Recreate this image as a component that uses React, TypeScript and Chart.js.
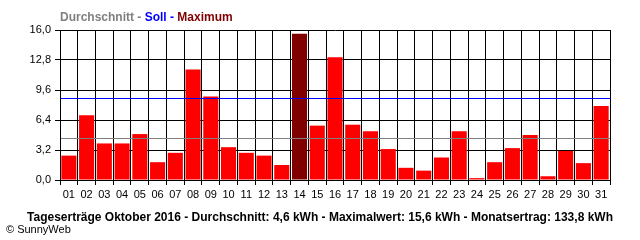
import React, { useEffect, useRef } from "react";
import { Chart, registerables } from "chart.js";

Chart.register(...registerables);

const days = ["01","02","03","04","05","06","07","08","09","10","11","12","13","14","15","16","17","18","19","20","21","22","23","24","25","26","27","28","29","30","31"];
const yields = [2.6,6.9,3.9,3.9,4.9,1.9,2.9,11.8,8.9,3.5,2.9,2.6,1.6,15.6,5.8,13.1,5.9,5.2,3.3,1.3,1.0,2.4,5.2,0.2,1.9,3.4,4.8,0.4,3.1,1.8,7.9];
const yTicks = [0, 3.2, 6.4, 9.6, 12.8, 16.0];
const averageValue = 4.5;
const targetValue = 8.75;
const legendParts = [
  { text: "Durchschnitt - ", color: "#808080" },
  { text: "Soll - ", color: "#0000ff" },
  { text: "Maximum", color: "#800000" },
];
const footerText = "Tageserträge Oktober 2016 - Durchschnitt: 4,6 kWh - Maximalwert: 15,6 kWh - Monatsertrag: 133,8 kWh";
const copyrightText = "© SunnyWeb";

const FONT = "'Liberation Sans', Arial, sans-serif";

const overlayPlugin = {
  id: "overlay",
  afterDatasetsDraw(chart: any) {
    const { ctx, chartArea, scales } = chart;
    const y = scales.y;
    const drawLine = (v: number, color: string) => {
      const py = Math.round(y.getPixelForValue(v));
      ctx.save();
      ctx.fillStyle = color;
      ctx.fillRect(chartArea.left + 1, py, chartArea.right - chartArea.left - 1, 1);
      ctx.restore();
    };
    drawLine(averageValue, "#808080");
    drawLine(targetValue, "#0000ff");
  },
  afterDraw(chart: any) {
    const { ctx } = chart;
    ctx.save();
    ctx.textBaseline = "alphabetic";
    ctx.textAlign = "left";
    ctx.font = `bold 12px ${FONT}`;
    let x = 60;
    for (const p of legendParts) {
      ctx.fillStyle = p.color;
      ctx.fillText(p.text, x, 21);
      x += ctx.measureText(p.text).width;
    }
    ctx.font = `bold 12px ${FONT}`;
    ctx.fillStyle = "#000000";
    ctx.textAlign = "center";
    ctx.fillText(footerText, 320, 221);
    ctx.font = `11px ${FONT}`;
    ctx.textAlign = "left";
    ctx.fillText(copyrightText, 6, 233);
    ctx.restore();
  },
};

export default function App() {
  const ref = useRef<HTMLCanvasElement | null>(null);
  useEffect(() => {
    document.body.style.margin = "0";
    const maxVal = Math.max(...yields);
    const chart = new Chart(ref.current as HTMLCanvasElement, {
      type: "bar",
      data: {
        labels: days,
        datasets: [
          {
            data: yields,
            backgroundColor: yields.map((v) => (v === maxVal ? "#800000" : "#ff0000")),
            borderWidth: 0,
            barPercentage: 0.85,
            categoryPercentage: 1,
          },
        ],
      },
      options: {
        responsive: false,
        animation: false,
        layout: { padding: { top: 30, right: 30, left: 0, bottom: 0 } },
        plugins: { legend: { display: false }, tooltip: { enabled: false }, title: { display: false } },
        scales: {
          x: {
            grid: { offset: true, color: "#000000", lineWidth: 1, tickLength: 5, drawTicks: true },
            border: { color: "#000000", width: 1 },
            ticks: { color: "#000000", font: { family: FONT, size: 11 }, padding: 3, maxRotation: 0, autoSkip: false },
            afterFit: (s: any) => { s.height = 60; },
          },
          y: {
            min: 0,
            max: 16,
            afterBuildTicks: (s: any) => { s.ticks = yTicks.map((v) => ({ value: v })); },
            grid: { color: "#000000", lineWidth: 1, tickLength: 5 },
            border: { color: "#000000", width: 1 },
            ticks: {
              color: "#000000",
              font: { family: FONT, size: 11 },
              padding: 4,
              callback: (v: any) => Number(v).toFixed(1).replace(".", ","),
            },
            afterFit: (s: any) => { s.width = 60; },
          },
        },
      },
      plugins: [overlayPlugin],
    });
    return () => chart.destroy();
  }, []);
  return (
    <div style={{ width: 640, height: 240, background: "#ffffff" }}>
      <canvas ref={ref} width={640} height={240} />
    </div>
  );
}
